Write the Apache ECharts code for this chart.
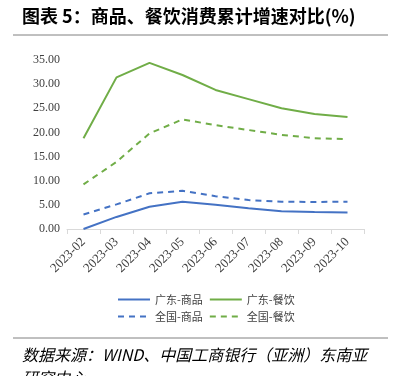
<!DOCTYPE html>
<html>
<head>
<meta charset="utf-8">
<script src="https://cdn.jsdelivr.net/npm/echarts@6/dist/echarts.min.js"></script>
<style>
html,body{margin:0;padding:0;background:#fff;}
#main{width:393px;height:376px;}
</style>
</head>
<body>
<div id="main"></div>
<script>
var months = ['2023-02','2023-03','2023-04','2023-05','2023-06','2023-07','2023-08','2023-09','2023-10'];
var gdGoods = [0.0, 2.5, 4.6, 5.65, 5.0, 4.3, 3.7, 3.5, 3.4];
var gdFood = [18.8, 31.4, 34.4, 31.9, 28.8, 26.9, 25.0, 23.8, 23.2];
var cnGoods = [3.0, 5.1, 7.4, 7.9, 6.8, 6.0, 5.65, 5.6, 5.65];
var cnFood = [9.25, 13.9, 19.8, 22.7, 21.5, 20.5, 19.5, 18.8, 18.6];

var blue = '#4472C4', green = '#70AD47';
var serif = '"Liberation Serif","Times New Roman",serif';
var cjk = '"Noto Sans CJK SC",sans-serif';

var chart = echarts.init(document.getElementById('main'));

function line(name, data, color, type){
	return {
		name: name,
		type: 'line',
		data: data,
		symbol: 'none',
		smooth: false,
		lineStyle: {color: color, width: 2, type: type},
		itemStyle: {color: color}
	};
}

chart.setOption({
	animation: false,
	grid: {left: 67, right: 29, top: 60, bottom: 147},
	xAxis: {
		type: 'category',
		data: months,
		boundaryGap: true,
		axisLine: {lineStyle: {color: '#d9d9d9'}},
		axisTick: {show: true, length: 5, lineStyle: {color: '#d9d9d9'}},
		axisLabel: {rotate: 45, fontFamily: serif, fontSize: 13, color: '#404040', margin: 11}
	},
	yAxis: {
		type: 'value',
		min: 0, max: 35, interval: 5,
		axisLine: {show: false},
		axisTick: {show: false},
		splitLine: {show: false},
		axisLabel: {fontFamily: serif, fontSize: 12, color: '#404040', margin: 7,
			formatter: function(v){ return v.toFixed(2); }}
	},
	legend: {
		left: 112, top: 289, width: 195,
		itemWidth: 32, itemHeight: 8, itemGap: 6,
		itemStyle: {opacity: 0},
		textStyle: {fontFamily: cjk, fontSize: 11, color: '#404040'},
		data: ['广东-商品','广东-餐饮','全国-商品','全国-餐饮']
	},
	series: [
		line('广东-商品', gdGoods, blue, 'solid'),
		line('广东-餐饮', gdFood, green, 'solid'),
		line('全国-商品', cnGoods, blue, [6, 5]),
		line('全国-餐饮', cnFood, green, [6, 5])
	],
	graphic: [
		{type: 'text', left: 22, top: 7,
			style: {text: '图表 5：商品、餐饮消费累计增速对比(%)', font: 'bold 18px ' + cjk, fill: '#000'}},
		{type: 'line', shape: {x1: 13, y1: 35, x2: 388, y2: 35}, style: {stroke: '#808080', lineWidth: 1}},
		{type: 'line', shape: {x1: 13, y1: 338, x2: 388, y2: 338}, style: {stroke: '#808080', lineWidth: 1}},
		{type: 'text', left: 22, top: 343,
			style: {text: '数据来源：WIND、中国工商银行（亚洲）东南亚\n研究中心', font: 'italic 16px ' + cjk, lineHeight: 23, fill: '#000'}}
	]
});
</script>
</body>
</html>
